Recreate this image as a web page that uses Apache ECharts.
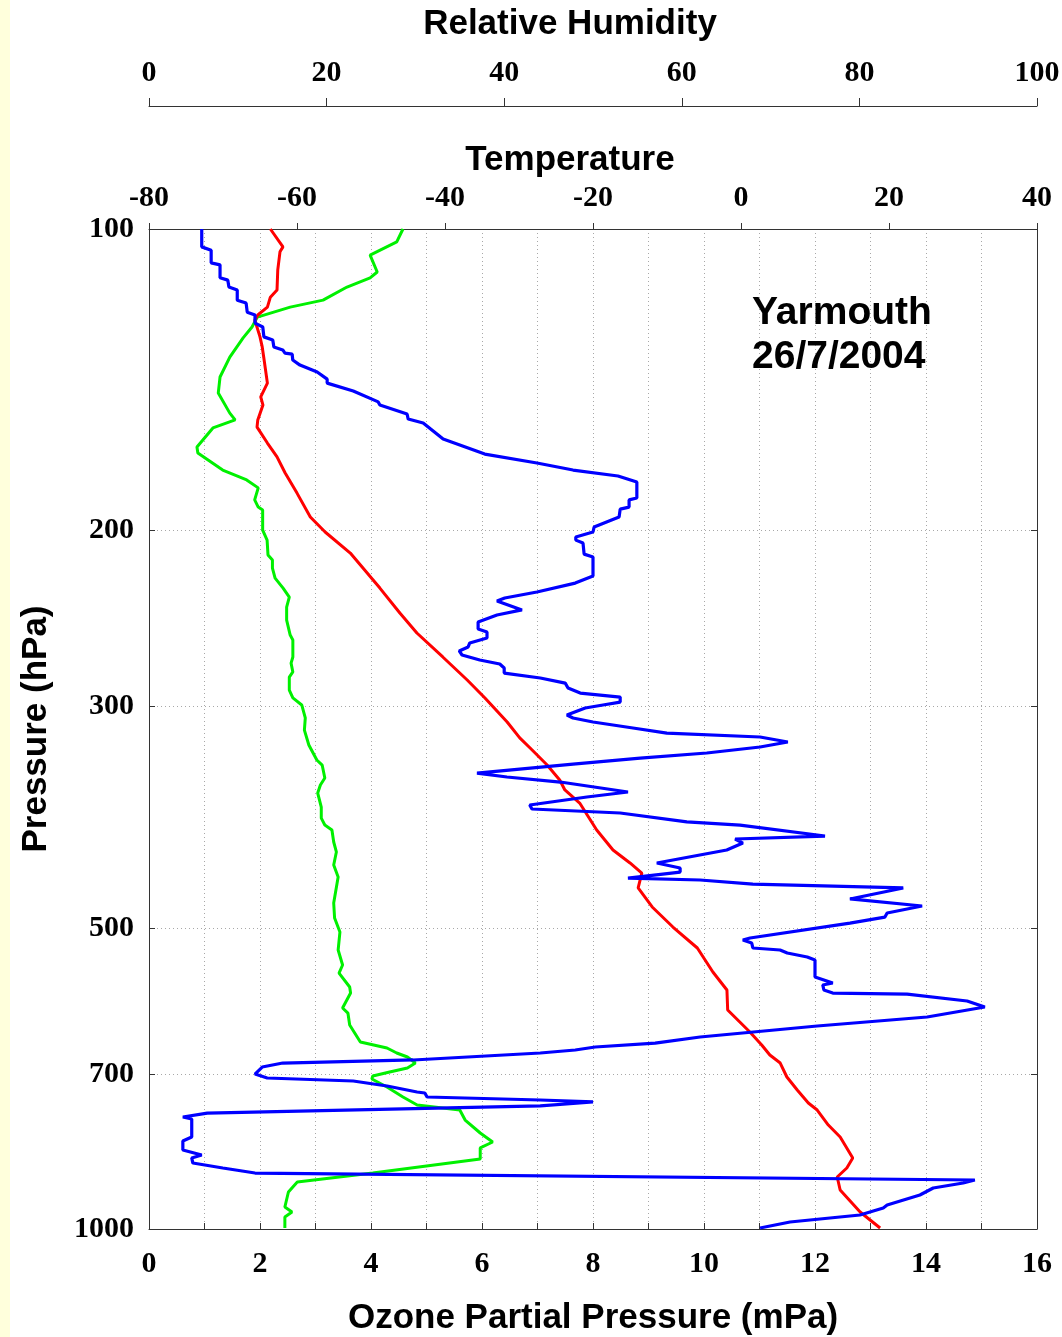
<!DOCTYPE html>
<html>
<head>
<meta charset="utf-8">
<title>Yarmouth ozonesonde 26/7/2004</title>
<script src="https://cdn.jsdelivr.net/npm/echarts@6/dist/echarts.min.js"></script>
<style>
  html, body { margin: 0; padding: 0; background: #ffffff; }
  #chart { width: 1062px; height: 1337px; }
</style>
</head>
<body>
<div id="chart"></div>
<script>
// Sounding profiles: [value, pressure hPa]
const ozoneProfile = [
  [0.95,100],[0.95,104.2],[1.12,105.0],[1.12,108.1],[1.28,108.6],[1.28,111.9],[1.42,112.5],[1.44,114.3],
  [1.59,115.1],[1.59,117.8],[1.75,118.6],[1.77,121.1],[1.91,121.9],[1.91,124.2],[2.05,125.3],[2.07,128.2],
  [2.23,129.1],[2.25,131.2],[2.41,132.1],[2.45,133.1],[2.58,133.4],[2.59,135.2],[2.72,136.8],[3.03,139.0],
  [3.21,141.3],[3.21,142.6],[3.68,145.2],[4.13,148.9],[4.16,150.0],[4.65,153.1],[4.67,154.9],[4.94,156.3],
  [5.12,159.2],[5.30,162.2],[5.60,164.4],[6.05,167.9],[6.99,171.4],[7.64,174.2],[8.45,176.6],[8.79,179.1],
  [8.79,185.8],[8.65,186.6],[8.65,189.7],[8.49,190.6],[8.47,194.1],[8.02,198.6],[8.00,200.9],[7.69,203.2],
  [7.69,204.7],[7.82,206.1],[7.84,211.4],[8.00,212.8],[8.00,222.3],[7.68,226.0],[6.99,230.7],[6.41,233.9],
  [6.27,235.5],[6.72,240.4],[6.27,243.2],[5.93,247.2],[5.93,251.2],[6.09,252.9],[6.09,256.4],[5.78,259.4],
  [5.75,261.8],[5.59,264.2],[5.64,266.7],[5.96,269.8],[6.32,272.3],[6.40,274.8],[6.40,278.0],[7.05,281.2],
  [7.50,284.5],[7.55,287.7],[7.77,291.1],[8.49,293.8],[8.49,297.2],[8.18,299.2],[7.86,301.3],[7.53,306.2],
  [7.64,308.3],[8.00,311.2],[8.72,315.5],[9.33,319.2],[11.01,322.1],[11.51,325.8],[11.01,329.6],[10.05,334.2],
  [8.85,338.1],[7.64,342.8],[5.91,350.0],[6.45,353.2],[7.41,357.3],[8.63,365.6],[7.89,369.8],[6.86,376.7],
  [6.90,380.2],[8.49,383.7],[9.69,391.7],[10.65,394.5],[12.18,404.6],[10.56,407.4],[10.70,411.2],[10.41,417.8],
  [9.15,430.5],[9.57,435.5],[9.57,439.6],[8.63,445.7],[9.93,447.7],[10.88,451.9],[13.59,456.0],[12.63,467.7],
  [13.93,475.3],[13.30,483.1],[13.26,487.6],[12.63,494.4],[10.83,511.7],[10.70,514.1],[10.86,517.6],[10.88,523.6],
  [11.37,526.0],[11.50,529.7],[11.86,534.6],[12.00,538.3],[12.00,559.8],[12.32,567.6],[12.14,570.2],[12.16,576.8],
  [12.32,580.8],[13.66,582.2],[14.74,591.6],[15.06,599.8],[14.02,613.8],[12.04,626.6],[9.93,642.7],[9.12,651.7],
  [8.04,657.7],[7.68,662.2],[7.05,666.8],[4.76,677.6],[2.41,682.4],[2.04,688.7],[1.91,699.9],[2.13,706.3],
  [3.68,711.2],[4.29,719.4],[4.83,729.5],[4.97,731.2],[5.01,737.9],[7.05,743.0],[8.00,746.4],[7.05,753.3],
  [1.05,765.7],[0.61,772.7],[0.77,776.3],[0.77,809.1],[0.61,816.6],[0.61,833.6],[0.95,843.3],[0.77,849.1],
  [0.79,859.1],[1.33,868.9],[1.91,879.1],[14.88,893.3],[14.67,899.5],[14.13,909.9],[13.89,924.7],[13.30,946.2],
  [13.23,952.8],[12.81,968.3],[11.55,984.0],[11.01,997.7]
];

const temperatureProfile = [
  [-63.6,100],[-61.9,104.2],[-62.3,105.4],[-62.6,109.9],[-62.7,115.1],[-63.6,117.0],[-64.0,119.7],[-65.3,121.9],
  [-65.7,123.3],[-65.0,128.2],[-64.7,131.2],[-64.5,134.3],[-64.0,142.6],[-64.9,147.2],[-64.6,150.0],[-65.3,155.2],
  [-65.4,157.8],[-64.0,163.7],[-62.7,169.0],[-61.6,175.4],[-60.0,183.7],[-58.2,194.1],[-56.2,200.9],[-52.8,210.9],
  [-48.8,228.6],[-46.1,242.1],[-43.8,253.5],[-40.3,267.9],[-37.0,282.5],[-34.6,294.4],[-31.6,311.2],[-29.9,322.8],
  [-28.5,330.4],[-26.2,343.6],[-24.5,355.6],[-23.8,363.9],[-21.8,375.0],[-19.5,399.0],[-17.3,417.8],[-15.0,430.5],
  [-13.4,440.6],[-13.9,456.0],[-12.0,476.4],[-9.2,498.9],[-5.9,523.6],[-3.8,553.3],[-1.9,576.8],[-1.8,604.0],
  [1.2,635.3],[2.8,654.6],[3.9,669.9],[5.3,682.4],[6.2,704.7],[7.6,726.1],[9.1,748.2],[10.3,760.4],
  [11.8,787.1],[13.4,809.1],[15.1,849.1],[14.3,868.9],[13.0,887.2],[13.4,914.1],[16.1,961.6],[18.8,997.7]
];

const humidityProfile = [
  [28.6,100],[27.9,103.0],[24.9,106.2],[25.7,110.4],[24.9,111.9],[22.3,114.3],[19.6,117.8],[15.9,119.7],
  [12.2,122.5],[11.6,125.3],[10.6,128.5],[9.1,134.3],[8.0,140.6],[7.8,145.9],[9.1,152.8],[9.7,155.2],
  [7.2,158.1],[5.4,165.2],[5.5,167.5],[8.3,174.2],[11.0,178.2],[12.3,181.5],[11.9,186.6],[12.3,189.7],
  [12.8,191.0],[12.8,200.0],[13.3,204.7],[13.4,211.8],[13.9,214.3],[13.9,218.3],[14.2,223.4],[15.1,228.6],
  [15.8,233.4],[15.5,238.8],[15.5,246.1],[15.9,254.7],[16.2,257.6],[16.2,267.9],[16.0,271.7],[16.2,277.3],
  [15.8,280.6],[15.8,289.1],[16.2,294.4],[17.2,299.2],[17.6,308.3],[17.5,317.0],[18.0,328.1],[18.9,339.6],
  [19.5,343.6],[19.8,354.0],[19.3,359.7],[19.0,366.5],[19.4,378.5],[19.4,388.2],[19.8,394.5],[20.6,399.0],
  [20.8,410.2],[21.1,419.7],[20.8,432.5],[21.3,444.7],[20.8,472.1],[20.9,488.7],[21.5,504.7],[21.3,526.0],
  [21.8,544.5],[21.4,554.7],[22.6,572.8],[22.7,580.8],[21.8,601.2],[22.4,608.2],[22.6,625.2],[23.8,650.1],
  [26.8,659.2],[27.9,666.8],[29.1,673.0],[30.0,682.4],[29.1,690.2],[27.1,696.6],[25.2,703.1],[25.1,707.9],
  [26.8,721.1],[28.6,737.9],[30.2,751.6],[35.0,760.4],[35.6,778.1],[37.3,801.7],[38.7,818.5],[37.3,829.8],
  [37.3,851.1],[25.2,879.1],[16.7,897.4],[15.7,918.3],[15.3,950.6],[16.1,961.6],[15.3,972.8],[15.3,997.7]
];

// Axis tick values
const pressureTicks = [100, 200, 300, 500, 700, 1000];
const pressureInnerTicks = [200, 300, 500, 700];
const ozoneRange = [0, 16];
const temperatureRange = [-80, 40];
const humidityRange = [0, 100];

const SERIF = '"Liberation Serif", "Times New Roman", serif';
const SANS = '"Liberation Sans", Arial, sans-serif';
const AXIS_COLOR = '#333';
const GRID_DOTS = { color: '#a8a8a8', width: 1, type: [1, 3] };

const tickLabel = { color: '#000', fontFamily: SERIF, fontWeight: 'bold', fontSize: 30 };
const axisTitle = { color: '#000', fontFamily: SANS, fontWeight: 'bold', fontSize: 35 };
const borderLine = { show: true, onZero: false, lineStyle: { color: AXIS_COLOR, width: 1 } };

const chart = echarts.init(document.getElementById('chart'), null, { renderer: 'canvas' });

chart.setOption({
  animation: false,
  backgroundColor: '#ffffff',
  graphic: [{
    type: 'rect', left: 0, top: 0, z: -1,
    shape: { width: 10, height: 1337 },
    style: { fill: '#FFFFDC' }
  }],
  title: {
    text: 'Yarmouth\n26/7/2004',
    left: 747, top: 286,
    textStyle: { color: '#000', fontFamily: SANS, fontWeight: 'bold', fontSize: 39, lineHeight: 44 }
  },
  grid: { left: 149, right: 25, top: 229, bottom: 108, containLabel: false, outerBoundsMode: 'none' },
  xAxis: [
    {
      type: 'value', position: 'bottom',
      min: ozoneRange[0], max: ozoneRange[1], interval: 1,
      name: 'Ozone Partial Pressure (mPa)', nameLocation: 'middle', nameGap: 72,
      nameTextStyle: axisTitle,
      axisLine: borderLine,
      axisTick: { show: true, inside: true, length: 6, lineStyle: { color: AXIS_COLOR } },
      axisLabel: Object.assign({ margin: 20, formatter: v => (v % 2 === 0 ? String(v) : '') }, tickLabel),
      splitLine: { show: true, showMinLine: false, showMaxLine: false, lineStyle: GRID_DOTS }
    },
    {
      type: 'value', position: 'top',
      min: temperatureRange[0], max: temperatureRange[1], interval: 20,
      name: 'Temperature', nameLocation: 'middle', nameGap: 50,
      nameTextStyle: Object.assign({ padding: [0, 46, 0, 0] }, axisTitle),
      axisLine: borderLine,
      axisTick: { show: true, inside: false, length: 6, lineStyle: { color: AXIS_COLOR } },
      axisLabel: Object.assign({ margin: 16 }, tickLabel),
      splitLine: { show: false }
    },
    {
      type: 'value', position: 'top', offset: 123,
      min: humidityRange[0], max: humidityRange[1], interval: 20,
      name: 'Relative Humidity', nameLocation: 'middle', nameGap: 64,
      nameTextStyle: Object.assign({ padding: [0, 46, 0, 0] }, axisTitle),
      axisLine: borderLine,
      axisTick: { show: true, inside: false, length: 8, lineStyle: { color: AXIS_COLOR } },
      axisLabel: Object.assign({ margin: 18 }, tickLabel),
      splitLine: { show: false }
    }
  ],
  yAxis: [
    {
      type: 'log', logBase: 10, min: 100, max: 1000, inverse: true, position: 'left',
      name: 'Pressure (hPa)', nameLocation: 'middle', nameGap: 95,
      nameTextStyle: axisTitle,
      axisLine: borderLine,
      axisTick: { show: true, inside: true, length: 6, customValues: pressureTicks, lineStyle: { color: AXIS_COLOR } },
      axisLabel: Object.assign({ margin: 15, customValues: pressureTicks, formatter: v => String(Math.round(v)) }, tickLabel),
      splitLine: { show: true, showMinLine: false, showMaxLine: false, lineStyle: GRID_DOTS }
    },
    {
      type: 'log', logBase: 10, min: 100, max: 1000, inverse: true, position: 'right',
      axisLine: borderLine,
      axisTick: { show: true, inside: true, length: 6, customValues: pressureInnerTicks, lineStyle: { color: AXIS_COLOR } },
      axisLabel: { show: false },
      splitLine: { show: false }
    }
  ],
  series: [
    {
      name: 'Relative Humidity', type: 'line', xAxisIndex: 2, yAxisIndex: 0,
      data: humidityProfile, showSymbol: false, symbol: 'none', smooth: false,
      lineStyle: { color: '#00F000', width: 3 }, z: 2
    },
    {
      name: 'Temperature', type: 'line', xAxisIndex: 1, yAxisIndex: 0,
      data: temperatureProfile, showSymbol: false, symbol: 'none', smooth: false,
      lineStyle: { color: '#FF0000', width: 3 }, z: 3
    },
    {
      name: 'Ozone', type: 'line', xAxisIndex: 0, yAxisIndex: 0,
      data: ozoneProfile, showSymbol: false, symbol: 'none', smooth: false,
      lineStyle: { color: '#0000FF', width: 3.2 }, z: 4
    }
  ]
});
</script>
</body>
</html>
